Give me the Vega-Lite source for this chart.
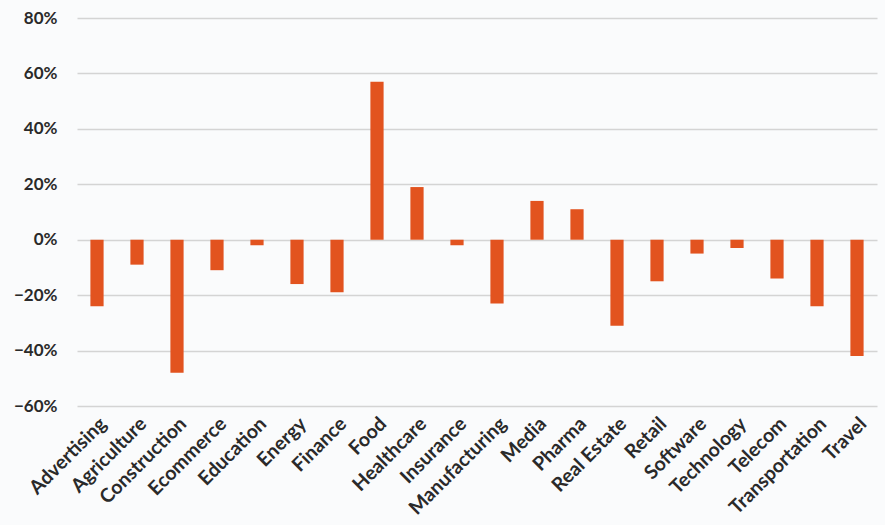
{
  "$schema": "https://vega.github.io/schema/vega-lite/v6.json",
  "width": 800,
  "height": 388,
  "autosize": "none",
  "padding": {"left": 77, "top": 18, "right": 8, "bottom": 119},
  "background": "#FAFBFC",
  "config": {"view": {"stroke": null}},
  "data": {
    "values": [
      {"industry": "Advertising", "change": -0.24},
      {"industry": "Agriculture", "change": -0.09},
      {"industry": "Construction", "change": -0.48},
      {"industry": "Ecommerce", "change": -0.11},
      {"industry": "Education", "change": -0.02},
      {"industry": "Energy", "change": -0.16},
      {"industry": "Finance", "change": -0.19},
      {"industry": "Food", "change": 0.57},
      {"industry": "Healthcare", "change": 0.19},
      {"industry": "Insurance", "change": -0.02},
      {"industry": "Manufacturing", "change": -0.23},
      {"industry": "Media", "change": 0.14},
      {"industry": "Pharma", "change": 0.11},
      {"industry": "Real Estate", "change": -0.31},
      {"industry": "Retail", "change": -0.15},
      {"industry": "Software", "change": -0.05},
      {"industry": "Technology", "change": -0.03},
      {"industry": "Telecom", "change": -0.14},
      {"industry": "Transportation", "change": -0.24},
      {"industry": "Travel", "change": -0.42}
    ]
  },
  "mark": {"type": "bar", "color": "#E2531F"},
  "encoding": {
    "x": {
      "field": "industry",
      "type": "nominal",
      "sort": null,
      "title": null,
      "scale": {"paddingInner": 0.67, "paddingOuter": 0.335},
      "axis": {
        "labelAngle": -45,
        "labelFont": "Lato",
        "labelFontWeight": 700,
        "labelFontSize": 19.5,
        "labelColor": "#2A2A2A",
        "labelPadding": 8,
        "ticks": false,
        "domain": false,
        "orient": "bottom"
      }
    },
    "y": {
      "field": "change",
      "type": "quantitative",
      "title": null,
      "scale": {"domain": [-0.6, 0.8], "nice": false, "zero": true},
      "axis": {
        "values": [-0.6, -0.4, -0.2, 0, 0.2, 0.4, 0.6, 0.8],
        "format": ".0%",
        "labelFont": "Lato",
        "labelFontWeight": 700,
        "labelFontSize": 17,
        "labelColor": "#2A2A2A",
        "labelPadding": 20,
        "ticks": false,
        "domain": false,
        "grid": true,
        "gridColor": "#D4D4D4",
        "gridWidth": 1.5
      }
    }
  }
}
